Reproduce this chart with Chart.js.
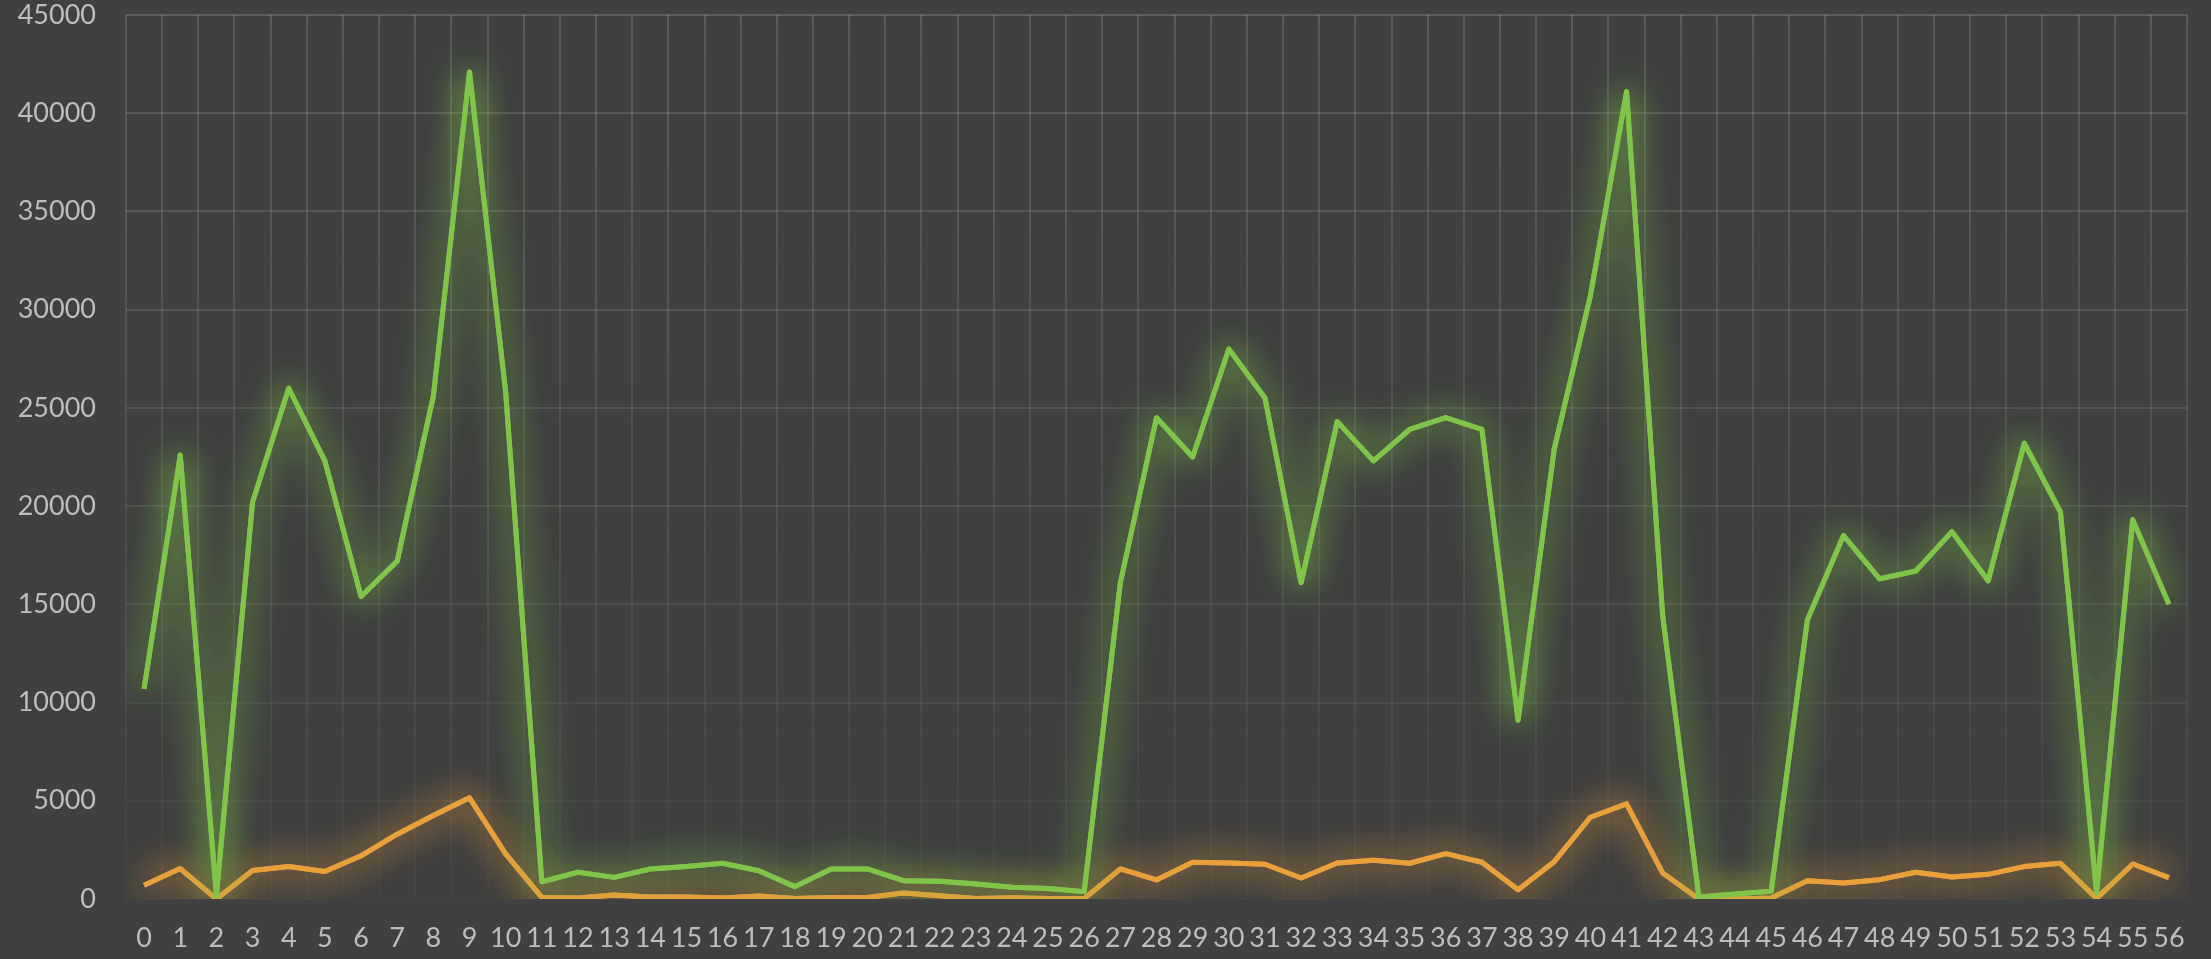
<!DOCTYPE html>
<html>
<head>
<meta charset="utf-8">
<script src="https://cdn.jsdelivr.net/npm/chart.js@4/dist/chart.umd.min.js"></script>
<style>
  html, body { margin: 0; padding: 0; background: #404040; }
  #wrap { width: 2211px; height: 959px; }
</style>
</head>
<body>
<div id="wrap"><canvas id="chart"></canvas></div>
<script>
// categories 0..56
const categories = ['0','1','2','3','4','5','6','7','8','9','10','11','12','13','14','15','16','17','18','19',
  '20','21','22','23','24','25','26','27','28','29','30','31','32','33','34','35','36','37','38','39',
  '40','41','42','43','44','45','46','47','48','49','50','51','52','53','54','55','56'];

// green series (upper line)
const greenValues = [10700, 22600, 170, 20200, 26000, 22300, 15400, 17200, 25600, 42100,
  25800, 880, 1360, 1100, 1530, 1650, 1820, 1440, 630, 1530,
  1530, 930, 900, 760, 600, 540, 375, 16100, 24500, 22500,
  28000, 25500, 16100, 24300, 22300, 23900, 24500, 23900, 9100, 22900,
  30700, 41100, 14400, 100, 250, 400, 14200, 18500, 16300, 16700,
  18700, 16200, 23200, 19700, 300, 19300, 15000];

// orange series (lower line)
const orangeValues = [700, 1550, 0, 1450, 1650, 1400, 2200, 3300, 4250, 5150,
  2300, 80, 50, 200, 100, 100, 50, 150, 30, 80,
  80, 300, 170, 30, 60, 20, 20, 1530, 970, 1870,
  1830, 1770, 1070, 1830, 1970, 1820, 2310, 1870, 475, 1900,
  4160, 4840, 1320, 0, 0, 50, 930, 815, 985, 1360,
  1120, 1255, 1650, 1815, 30, 1780, 1090];

const yTicks = [0, 5000, 10000, 15000, 20000, 25000, 30000, 35000, 40000, 45000];

const tickFont = { family: 'Lato, "Open Sans", sans-serif', size: 27 };
const tickColor = '#bdbdbd';

// grid fades out toward the bottom of the plot
function gridColor(context) {
    const chart = context.chart;
    const { ctx, chartArea } = chart;
    if (!chartArea) {
        return 'rgba(255,255,255,0.1)';
    }
    const g = ctx.createLinearGradient(0, chartArea.top, 0, chartArea.bottom);
    g.addColorStop(0, 'rgba(255,255,255,0.14)');
    g.addColorStop(0.6, 'rgba(255,255,255,0.08)');
    g.addColorStop(1, 'rgba(255,255,255,0.02)');
    return g;
}

// soft glow around each line (one extra shadowed pass, then the normal one)
const glowPlugin = {
    id: 'glow',
    beforeDatasetDraw(chart, args) {
        const ds = chart.data.datasets[args.index];
        const ctx = chart.ctx;
        ctx.save();
        ctx.shadowColor = ds.glowColor;
        ctx.shadowBlur = 34;
        ctx.save();
        ctx.beginPath();
        ctx.rect(chart.chartArea.left, chart.chartArea.top,
                 chart.chartArea.right - chart.chartArea.left,
                 chart.chartArea.bottom - chart.chartArea.top);
        ctx.clip();
        args.meta.dataset.draw(ctx, chart.chartArea);
        ctx.restore();
    },
    afterDatasetDraw(chart) {
        chart.ctx.restore();
    }
};

Chart.defaults.animation = false;

new Chart(document.getElementById('chart').getContext('2d'), {
    type: 'line',
    data: {
        labels: categories,
        datasets: [{
            data: greenValues,
            borderColor: '#80c44a',
            glowColor: 'rgba(128,196,74,0.9)',
            borderWidth: 5,
            borderJoinStyle: 'round',
            pointRadius: 0,
            tension: 0
        }, {
            data: orangeValues,
            borderColor: '#e9a03b',
            glowColor: 'rgba(233,160,59,0.9)',
            borderWidth: 5,
            borderJoinStyle: 'round',
            pointRadius: 0,
            tension: 0
        }]
    },
    options: {
        responsive: true,
        maintainAspectRatio: false,
        layout: { padding: { left: 0, right: 24, top: 2, bottom: 0 } },
        plugins: {
            legend: { display: false },
            tooltip: { enabled: false }
        },
        scales: {
            x: {
                offset: true,
                grid: {
                    offset: true,
                    color: gridColor,
                    lineWidth: 2,
                    drawTicks: false
                },
                border: { display: false },
                ticks: {
                    color: tickColor,
                    font: tickFont,
                    autoSkip: false,
                    maxRotation: 0,
                    minRotation: 0,
                    padding: 23
                },
                afterFit: function(scale) { scale.height = 60; }
            },
            y: {
                min: 0,
                max: 45000,
                afterBuildTicks: function(scale) {
                    scale.ticks = yTicks.map(v => ({ value: v }));
                },
                grid: {
                    color: gridColor,
                    lineWidth: 2,
                    drawTicks: false
                },
                border: { display: false },
                ticks: {
                    color: tickColor,
                    font: tickFont,
                    padding: 30,
                    callback: function(value) {
                        return String(value);
                    }
                },
                afterFit: function(scale) {
                    scale.width = 126;
                    scale.paddingTop = 15;
                    scale.paddingBottom = 0;
                }
            }
        }
    },
    plugins: [glowPlugin]
});
</script>
</body>
</html>
